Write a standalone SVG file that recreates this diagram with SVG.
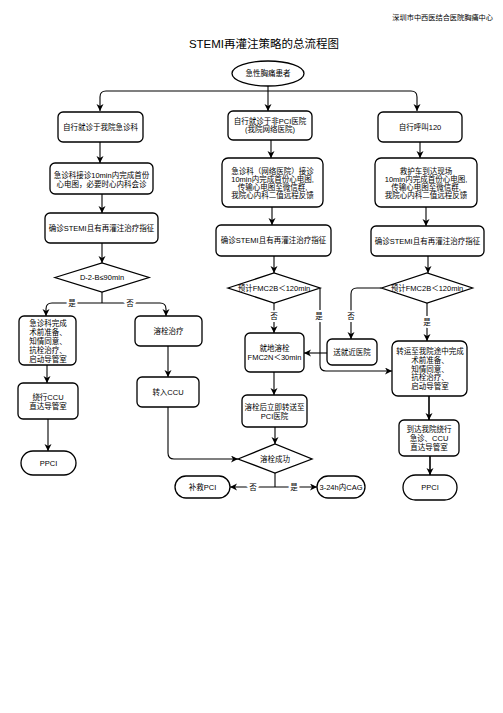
<svg xmlns="http://www.w3.org/2000/svg" width="503" height="713" viewBox="0 0 503 713">
<style>
.b{fill:#fff;stroke:#000;stroke-width:1.3}
.t{font-family:"Liberation Sans","Noto Sans CJK SC",sans-serif;font-size:7.5px;fill:#000;text-anchor:middle}
.c{fill:none;stroke:#000;stroke-width:1.1}
.l{font-family:"Liberation Sans","Noto Sans CJK SC",sans-serif;font-size:7.5px;fill:#000;text-anchor:middle;stroke:#fff;stroke-width:4;paint-order:stroke}
</style>
<defs>
<marker id="a" markerUnits="userSpaceOnUse" markerWidth="8" markerHeight="8" refX="7" refY="3.5" orient="auto">
<path d="M0,0 L7,3.5 L0,7 L2,3.5 z" fill="#000"/>
</marker>
</defs>
<rect width="503" height="713" fill="#fff"/>
<text x="493" y="20" style="font-family:'Liberation Sans','Noto Sans CJK SC',sans-serif;font-size:7.2px;text-anchor:end">深圳市中西医结合医院胸痛中心</text>
<text x="264" y="48" style="font-family:'Liberation Sans','Noto Sans CJK SC',sans-serif;font-size:11.5px;text-anchor:middle">STEMI再灌注策略的总流程图</text>

<g id="connectors">
<path class="c" d="M268,86 V111" marker-end="url(#a)"/>
<path class="c" d="M268,91 H106 Q100,91 100,97 V111" marker-end="url(#a)"/>
<path class="c" d="M268,91 H411 Q417,91 417,97 V111" marker-end="url(#a)"/>
<path class="c" d="M100,142 V163" marker-end="url(#a)"/>
<path class="c" d="M102,194 V213" marker-end="url(#a)"/>
<path class="c" d="M102,243 V263" marker-end="url(#a)"/>
<path class="c" d="M102,292 V303"/>
<path class="c" d="M102,303 H52 Q46,303 46,309 V316" marker-end="url(#a)"/>
<path class="c" d="M102,303 H160 Q166,303 166,309 V316" marker-end="url(#a)"/>
<path class="c" d="M47,365 V383" marker-end="url(#a)"/>
<path class="c" d="M48,419 V451" marker-end="url(#a)"/>
<path class="c" d="M168,346 V377" marker-end="url(#a)"/>
<path class="c" d="M168,407 V453 Q168,459 174,459 H238" marker-end="url(#a)"/>
<path class="c" d="M271,140 V158" marker-end="url(#a)"/>
<path class="c" d="M272,207 V225" marker-end="url(#a)"/>
<path class="c" d="M274,256 V273" marker-end="url(#a)"/>
<path class="c" d="M274,303 V333" marker-end="url(#a)"/>
<path class="c" d="M320,288 V365 Q320,371 326,371 H392" marker-end="url(#a)"/>
<path class="c" d="M274,372 V395" marker-end="url(#a)"/>
<path class="c" d="M275,427 V444" marker-end="url(#a)"/>
<path class="c" d="M275,473 V487"/>
<path class="c" d="M275,487 H230" marker-end="url(#a)"/>
<path class="c" d="M275,487 H317" marker-end="url(#a)"/>
<path class="c" d="M420,142 V158" marker-end="url(#a)"/>
<path class="c" d="M426,207 V226" marker-end="url(#a)"/>
<path class="c" d="M428,256 V273" marker-end="url(#a)"/>
<path class="c" d="M381.5,288 H357 Q351,288 351,294 V339" marker-end="url(#a)"/>
<path class="c" d="M427,303 V341" marker-end="url(#a)"/>
<path class="c" d="M327,353 H304" marker-end="url(#a)"/>
<path class="c" d="M429,396 V420" style="stroke-width:1.6" marker-end="url(#a)"/>
<path class="c" d="M430,456 V475" style="stroke-width:1.6" marker-end="url(#a)"/>
<text class="l" x="72" y="306">是</text>
<text class="l" x="130" y="306">否</text>
<text class="l" x="274" y="319">否</text>
<text class="l" x="319" y="319">是</text>
<text class="l" x="351" y="319">否</text>
<text class="l" x="427" y="325">是</text>
<text class="l" x="253" y="490">否</text>
<text class="l" x="294" y="490">是</text>
</g>

<g id="start"><ellipse class="b" cx="268" cy="73.5" rx="36" ry="12.5"/><text class="t" x="268" y="76.2">急性胸痛患者</text></g>

<g id="L1"><rect class="b" x="58" y="112" width="85" height="30" rx="5"/><text class="t" x="100.5" y="129.7">自行就诊于我院急诊科</text></g>
<g id="L2"><rect class="b" x="50" y="163" width="103" height="31" rx="5"/><text class="t" x="101.5" y="177.5">急诊科接诊10min内完成首份</text><text class="t" x="101.5" y="186.5">心电图，必要时心内科会诊</text></g>
<g id="L3"><rect class="b" x="45" y="213" width="113" height="30" rx="5"/><text class="t" x="101.5" y="230.7">确诊STEMI且有再灌注治疗指征</text></g>
<g id="LD"><polygon class="b" points="55,277.5 102,263 149,277.5 102,292"/><text class="t" x="102" y="280.2">D-2-B≤90min</text></g>
<g id="L4"><rect class="b" x="19" y="316" width="57" height="49" rx="5"/>
<text class="t" x="48" y="325.7">急诊科完成</text><text class="t" x="48" y="334.7">术前准备、</text><text class="t" x="48" y="343.7">知情同意、</text><text class="t" x="48" y="352.7">抗栓治疗、</text><text class="t" x="48" y="361.7">启动导管室</text></g>
<g id="L5"><rect class="b" x="18" y="383" width="60" height="36" rx="5"/><text class="t" x="48" y="399.7">绕行CCU</text><text class="t" x="48" y="408.7">直达导管室</text></g>
<g id="LP"><rect class="b" x="21" y="451" width="55" height="24" rx="12"/><text class="t" x="48.5" y="465.7">PPCI</text></g>

<g id="ML1"><rect class="b" x="135" y="316" width="67" height="30" rx="5"/><text class="t" x="168.5" y="333.7">溶栓治疗</text></g>
<g id="ML2"><rect class="b" x="137" y="377" width="62" height="30" rx="5"/><text class="t" x="168" y="394.7">转入CCU</text></g>

<g id="M1"><rect class="b" x="228" y="111" width="84" height="29" rx="5"/><text class="t" x="270" y="124.2">自行就诊于非PCI医院</text><text class="t" x="270" y="132.2">(我院网络医院)</text></g>
<g id="M2"><rect class="b" x="222" y="158" width="101" height="49" rx="6"/>
<text class="t" x="272.5" y="173.7">急诊科（网络医院）接诊</text><text class="t" x="272.5" y="181.7">10min内完成首份心电图,</text><text class="t" x="272.5" y="189.7">传输心电图至微信群,</text><text class="t" x="272.5" y="197.7">我院心内科二值远程反馈</text></g>
<g id="M3"><rect class="b" x="216" y="225" width="115" height="31" rx="5"/><text class="t" x="273.5" y="243.2">确诊STEMI且有再灌注治疗指征</text></g>
<g id="MD"><polygon class="b" points="228,288 274,273 320,288 274,303"/><text class="t" x="274" y="290.7">预计FMC2B＜120min</text></g>
<g id="M4"><rect class="b" x="245" y="333" width="59" height="39" rx="5"/><text class="t" x="274.5" y="350.7">就地溶栓</text><text class="t" x="274.5" y="359.7">FMC2N＜30min</text></g>
<g id="M5"><rect class="b" x="242" y="395" width="65" height="32" rx="5"/><text class="t" x="274.5" y="410.2">溶栓后立即转送至</text><text class="t" x="274.5" y="418.7">PCI医院</text></g>
<g id="MD2"><polygon class="b" points="238,459 275,444 312,459 275,473"/><text class="t" x="275" y="461.5">溶栓成功</text></g>
<g id="MP1"><rect class="b" x="175" y="476" width="55" height="22" rx="11"/><text class="t" x="202.5" y="489.7">补救PCI</text></g>
<g id="MP2"><rect class="b" x="317" y="476" width="48" height="22" rx="11"/><text class="t" x="341" y="489.7">3-24h内CAG</text></g>

<g id="R1"><rect class="b" x="378" y="112" width="84" height="30" rx="5"/><text class="t" x="420" y="129.7">自行呼叫120</text></g>
<g id="R2"><rect class="b" x="375" y="158" width="102" height="49" rx="6"/>
<text class="t" x="426" y="173.7">救护车到达现场</text><text class="t" x="426" y="181.7">10min内完成首份心电图,</text><text class="t" x="426" y="189.7">传输心电图至微信群,</text><text class="t" x="426" y="197.7">我院心内科二值远程反馈</text></g>
<g id="R3"><rect class="b" x="371" y="226" width="113" height="30" rx="5"/><text class="t" x="427.5" y="243.7">确诊STEMI且有再灌注治疗指征</text></g>
<g id="RD"><polygon class="b" points="381.5,288 427,273 472.5,288 427,303"/><text class="t" x="427" y="290.7">预计FMC2B＜120min</text></g>
<g id="RN"><rect class="b" x="327" y="339" width="50" height="26" rx="5"/><text class="t" x="352" y="354.7">送就近医院</text></g>
<g id="R4"><rect class="b" x="392" y="341" width="75" height="55" rx="6"/>
<text class="t" x="430" y="353.7">转运至我院途中完成</text><text class="t" x="430" y="362.6">术前准备、</text><text class="t" x="430" y="371.5">知情同意、</text><text class="t" x="430" y="380.4">抗栓治疗、</text><text class="t" x="430" y="389.3">启动导管室</text></g>
<g id="R5"><rect class="b" x="399" y="420" width="60" height="36" rx="5"/><text class="t" x="429" y="431.7">到达我院绕行</text><text class="t" x="429" y="440.7">急诊、CCU</text><text class="t" x="429" y="449.7">直达导管室</text></g>
<g id="RP"><rect class="b" x="403" y="475" width="54" height="25" rx="12.5"/><text class="t" x="430" y="490.2">PPCI</text></g>
</svg>
